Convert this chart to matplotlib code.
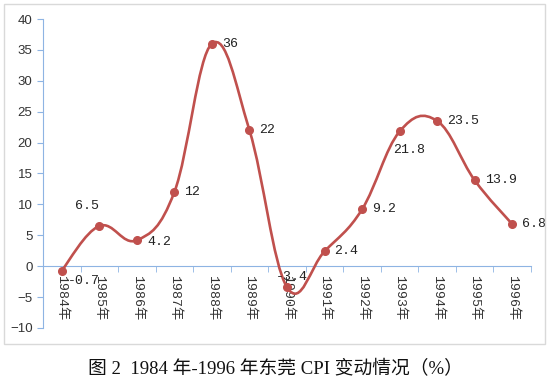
import matplotlib
matplotlib.use("Agg")
import matplotlib.pyplot as plt
from matplotlib.path import Path
from matplotlib.patches import PathPatch, Rectangle

# CPI change in Dongguan, 1984-1996 (%)
years = ["1984年", "1985年", "1986年", "1987年", "1988年", "1989年", "1990年",
         "1991年", "1992年", "1993年", "1994年", "1995年", "1996年"]
cpi = [-0.7, 6.5, 4.2, 12, 36, 22, -3.4, 2.4, 9.2, 21.8, 23.5, 13.9, 6.8]
label_text = ["-0.7", "6.5", "4.2", "12", "36", "22", "-3.4",
              "2.4", "9.2", "21.8", "23.5", "13.9", "6.8"]

RED = "#C0504D"
AXIS = "#8EB4E3"
CJK = ["Liberation Mono", "Noto Sans CJK SC"]


def smooth_path(xs, ys, k=0.19):
    """Excel-style smoothed line: cubic bezier through every point."""
    pts = list(zip(xs, ys))
    n = len(pts)
    verts = [pts[0]]
    codes = [Path.MOVETO]
    for i in range(n - 1):
        p0 = pts[max(i - 1, 0)]
        p1 = pts[i]
        p2 = pts[i + 1]
        p3 = pts[min(i + 2, n - 1)]
        c1 = (p1[0] + (p2[0] - p0[0]) * k, p1[1] + (p2[1] - p0[1]) * k)
        c2 = (p2[0] - (p3[0] - p1[0]) * k, p2[1] - (p3[1] - p1[1]) * k)
        verts += [c1, c2, p2]
        codes += [Path.CURVE4] * 3
    return Path(verts, codes)


fig = plt.figure(figsize=(5.51, 3.87), dpi=100)
fig.patches.append(Rectangle((0.0073, 0.111), 0.9819, 0.8786, transform=fig.transFigure,
                             fill=False, edgecolor="#D9D9D9", linewidth=1.0))
ax = fig.add_axes([0.078, 0.1525, 0.8857, 0.7984])

x = list(range(len(cpi)))
ax.add_patch(PathPatch(smooth_path(x, cpi), facecolor="none", edgecolor=RED,
                       linewidth=1.9, zorder=3))
ax.plot(x, cpi, linestyle="none", marker="o", markersize=5.5, color=RED, zorder=4)

ax.set_xlim(-0.5, len(cpi) - 0.5)
ax.set_ylim(-10, 40)
ax.set_yticks(range(-10, 41, 5))

# data labels
offsets = {0: (6, -10, "left"), 1: (-12, 20, "center"), 2: (11, -2, "left"),
           6: (-11, 10, "left"), 9: (-6, -19, "left")}
for i, (xi, yi) in enumerate(zip(x, cpi)):
    dx, dy, ha = offsets.get(i, (10, 0, "left"))
    ax.annotate(label_text[i], (xi, yi), xytext=(dx, -dy if False else dy),
                textcoords="offset pixels", ha=ha, va="center", fontsize=9.5,
                family=CJK, color="#222222", zorder=5)

for side in ["top", "right"]:
    ax.spines[side].set_visible(False)
ax.spines["bottom"].set_position(("data", 0))
ax.spines["bottom"].set_color(AXIS)
ax.spines["left"].set_color(AXIS)

ax.set_xticks(x)
ax.set_xticklabels(years, rotation=270, fontsize=9.5, family=CJK, color="#333333")
ax.set_xticks([i - 0.5 for i in range(len(cpi) + 1)], minor=True)
ax.tick_params(axis="x", which="major", length=0, pad=6)
ax.tick_params(axis="x", which="minor", length=4, color=AXIS, direction="out")
ax.tick_params(axis="y", length=4, color=AXIS, direction="out", labelsize=9.5,
               labelcolor="#333333")
for t in ax.get_yticklabels():
    t.set_family("Liberation Sans")

fig.text(0.5, 0.045, "图 2  1984 年-1996 年东莞 CPI 变动情况（%）", ha="center", va="center",
         fontsize=13.5, family=["Liberation Serif", "Noto Sans CJK SC"], color="#111111")

fig.savefig("out.png", dpi=100)
